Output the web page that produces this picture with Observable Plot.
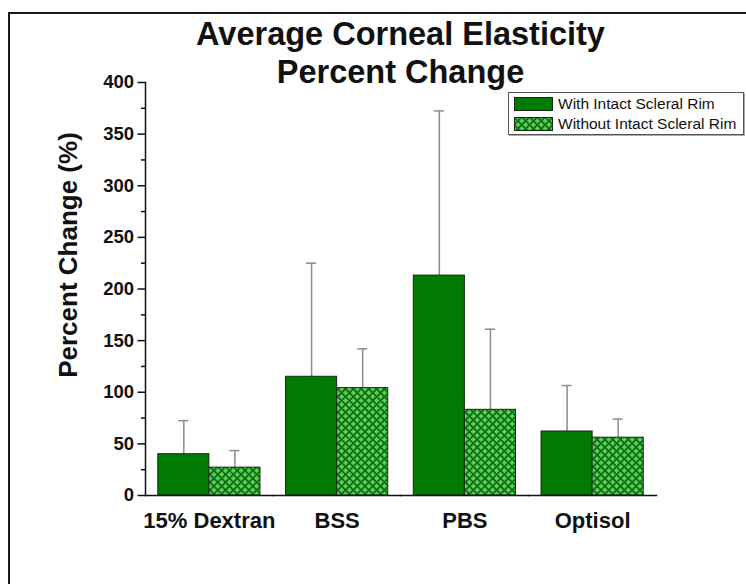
<!DOCTYPE html>
<html>
<head>
<meta charset="utf-8">
<script src="https://cdn.jsdelivr.net/npm/d3@7"></script>
<script src="https://cdn.jsdelivr.net/npm/@observablehq/plot@0.6"></script>
<style>
  html, body { margin: 0; padding: 0; background: #fff; }
  #wrap { position: relative; width: 746px; height: 584px; overflow: hidden; font-family: "Liberation Sans", Arial, sans-serif; }
  #border { position: absolute; left: 8px; top: 12px; width: 800px; height: 700px; border: 2px solid #1a1a1a; box-sizing: border-box; pointer-events: none; }
  #title { position: absolute; left: 145px; width: 511px; top: 15px; text-align: center; font-weight: bold; font-size: 32.5px; line-height: 38px; color: #111; white-space: nowrap; }
  #legend { position: absolute; left: 508px; top: 92px; width: 236px; height: 43px; border: 1.5px solid #555; box-shadow: 1px 1px 0 #aaa; background: #fff; box-sizing: border-box; }
  .lrow { position: absolute; left: 5px; height: 16px; display: flex; align-items: center; font-size: 15.5px; color: #111; white-space: nowrap; }
  .lrow svg { margin-right: 5px; }
</style>
</head>
<body>
<div id="wrap">
  <div id="chart"></div>
  <div id="title"></div>
  <div id="legend"></div>
  <div id="border"></div>
</div>
<script>
const titleLines = ["Average Corneal Elasticity", "Percent Change"];
const yLabel = "Percent Change (%)";
const categories = ["15% Dextran", "BSS", "PBS", "Optisol"];
const series = ["With Intact Scleral Rim", "Without Intact Scleral Rim"];
const withRim = [40, 115, 213, 62];
const withRimTop = [72.5, 225, 372.5, 106.5];
const withoutRim = [27, 104, 83, 56];
const withoutRimTop = [43.5, 142, 161, 74];
const yTicks = [0, 50, 100, 150, 200, 250, 300, 350, 400];
const yMinorTicks = [25, 75, 125, 175, 225, 275, 325, 375];

const solidGreen = "#007a00";
const hatchFill = "url(#hatch)";
const fills = [solidGreen, hatchFill];

const rows = categories.flatMap((c, i) => [
  {cat: c, series: series[0], value: withRim[i], top: withRimTop[i]},
  {cat: c, series: series[1], value: withoutRim[i], top: withoutRimTop[i]}
]);

const chart = Plot.plot({
  width: 746,
  height: 584,
  marginLeft: 145,
  marginRight: 90,
  marginTop: 82,
  marginBottom: 89,
  style: {fontFamily: "'Liberation Sans', Arial, sans-serif", color: "#111", background: "transparent", overflow: "visible"},
  fx: {domain: categories, padding: 0, round: false, label: null, axis: null},
  x: {domain: series, paddingInner: 0, paddingOuter: 0.25, round: false, axis: null},
  y: {domain: [0, 400], axis: null},
  marks: [
    Plot.ruleX(rows, {fx: "cat", x: "series", y1: "value", y2: "top", stroke: "#8c8c8c", strokeWidth: 1.5}),
    Plot.tickY(rows, {fx: "cat", x: "series", y: "top", stroke: "#8c8c8c", strokeWidth: 1.5, insetLeft: 20.5, insetRight: 20.5}),
    Plot.barY(rows.filter(d => d.series === series[0]), {fx: "cat", x: "series", y: "value", fill: fills[0], stroke: "#0f2f0f", strokeWidth: 1}),
    Plot.barY(rows.filter(d => d.series === series[1]), {fx: "cat", x: "series", y: "value", fill: fills[1], stroke: "#0f2f0f", strokeWidth: 1}),
    Plot.axisFx({anchor: "bottom", tickSize: 0, tickPadding: 17, fontSize: 22, fontWeight: "bold", label: null}),
    Plot.frame({anchor: "bottom", stroke: "#111", strokeWidth: 1.5}),
    Plot.frame({anchor: "left", facetAnchor: "left", stroke: "#111", strokeWidth: 1.5}),
    Plot.axisY({ticks: yTicks, tickSize: 7.5, tickPadding: 4, tickFormat: d => String(d), fontSize: 18.5, fontWeight: "bold", label: null, stroke: "#111", strokeWidth: 1.5}),
    Plot.axisY({ticks: yMinorTicks, tickSize: 4, text: null, label: null, stroke: "#111", strokeWidth: 1.5}),
    Plot.text([yLabel], {frameAnchor: "left", facetAnchor: "left", textAnchor: "middle", rotate: -90, dx: -77, dy: -34, fontSize: 26, fontWeight: "bold", fill: "#111"})
  ]
});

document.getElementById("chart").appendChild(chart);

// Crosshatch pattern used by the "without" series
const svgEl = chart.tagName.toLowerCase() === "svg" ? chart : chart.querySelector("svg");
const defs = d3.select(svgEl).insert("defs", ":first-child");
const pat = defs.append("pattern").attr("id", "hatch").attr("patternUnits", "userSpaceOnUse")
  .attr("width", 5.5).attr("height", 5.5).attr("patternTransform", "rotate(45)");
pat.append("rect").attr("width", 5.5).attr("height", 5.5).attr("fill", "#62c862");
pat.append("path").attr("d", "M0 0H5.5M0 0V5.5M0 5.5H5.5M5.5 0V5.5").attr("stroke", "#0a730a").attr("stroke-width", 1.8);

// Title
const title = document.getElementById("title");
titleLines.forEach(t => { const d = document.createElement("div"); d.textContent = t; title.appendChild(d); });

// Legend
const legend = document.getElementById("legend");
series.forEach((s, i) => {
  const row = document.createElement("div");
  row.className = "lrow";
  row.style.top = (3 + i * 20) + "px";
  row.innerHTML = `<svg width="39" height="14"><rect x="0.5" y="0.5" width="38" height="13" fill="${fills[i]}" stroke="#0f2f0f" stroke-width="1"/></svg><span></span>`;
  row.querySelector("span").textContent = s;
  legend.appendChild(row);
});
</script>
</body>
</html>
